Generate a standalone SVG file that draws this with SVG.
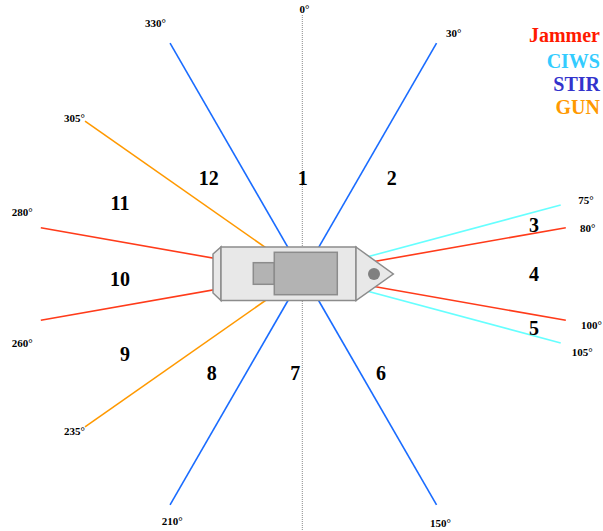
<svg xmlns="http://www.w3.org/2000/svg" width="603" height="531" viewBox="0 0 603 531">
  <style>
    .axis { stroke: #8a8a8a; stroke-width: 1; stroke-dasharray: 1 1; fill: none; }
    .ray { stroke-width: 1.6; fill: none; }
    .stir { stroke: #1a6cff; }
    .jam { stroke: #ff3b1a; }
    .ciws { stroke: #66ffff; }
    .gun { stroke: #ff9900; }
    .hull { fill: #e8e8e8; stroke: #8c8c8c; stroke-width: 1.5; }
    .deck { fill: #b3b3b3; stroke: #8c8c8c; stroke-width: 1.5; }
    text { font-family: 'Liberation Serif', 'DejaVu Serif', serif; font-weight: bold; }
    .sector { font-size: 20px; fill: #000; text-anchor: middle; }
    .deg { font-size: 11px; fill: #000; }
    .legend { font-size: 20px; text-anchor: end; }
  </style>

  <rect width="603" height="531" fill="#ffffff"/>

  <!-- centre-line (bearing 0°) -->
  <line class="axis" x1="302.3" y1="15" x2="302.3" y2="531"/>

  <!-- sector boundaries, radial from ship centre (303.3, 274) -->
  <g id="connectors">
    <line class="ray stir" x1="303.3" y1="274" x2="170.05" y2="43.2"/>
    <line class="ray stir" x1="303.3" y1="274" x2="436.55" y2="43.2"/>
    <line class="ray stir" x1="303.3" y1="274" x2="436.55" y2="504.8"/>
    <line class="ray stir" x1="303.3" y1="274" x2="170.05" y2="504.8"/>
    <line class="ray gun" x1="303.3" y1="274" x2="85" y2="121.1"/>
    <line class="ray gun" x1="303.3" y1="274" x2="85" y2="426.9"/>
    <line class="ray ciws" x1="303.3" y1="274" x2="560.7" y2="205"/>
    <line class="ray ciws" x1="303.3" y1="274" x2="560.7" y2="343"/>
    <line class="ray jam" x1="303.3" y1="274" x2="565.8" y2="227.7"/>
    <line class="ray jam" x1="303.3" y1="274" x2="565.8" y2="320.3"/>
    <line class="ray jam" x1="303.3" y1="274" x2="40.8" y2="227.7"/>
    <line class="ray jam" x1="303.3" y1="274" x2="40.8" y2="320.3"/>
  </g>

  <!-- ship -->
  <g id="ship">
    <polygon class="hull" points="213,254 221,247 221,300.5 213,293"/>
    <rect class="hull" x="221" y="247" width="135" height="53.5"/>
    <polygon class="hull" points="356,247 393.3,274 356,300.5"/>
    <rect class="deck" x="253.3" y="262.7" width="21" height="21.6"/>
    <rect class="deck" x="274.3" y="252.3" width="63" height="42.4"/>
    <circle cx="374" cy="274" r="6" fill="#808080"/>
  </g>

  <!-- sector numbers -->
  <g id="sectors">
    <text class="sector" x="302.8" y="184.5">1</text>
    <text class="sector" x="391.7" y="184.5">2</text>
    <text class="sector" x="534" y="231.7">3</text>
    <text class="sector" x="534" y="281">4</text>
    <text class="sector" x="534" y="335">5</text>
    <text class="sector" x="381" y="379.5">6</text>
    <text class="sector" x="295.3" y="379.5">7</text>
    <text class="sector" x="211.7" y="379.5">8</text>
    <text class="sector" x="125" y="361">9</text>
    <text class="sector" x="120" y="286">10</text>
    <text class="sector" x="120" y="210">11</text>
    <text class="sector" x="208.8" y="184.5">12</text>
  </g>

  <!-- bearing labels -->
  <g id="bearings">
    <text class="deg" x="299.5" y="13">0°</text>
    <text class="deg" x="446" y="37">30°</text>
    <text class="deg" x="578.3" y="204">75°</text>
    <text class="deg" x="580" y="231.7">80°</text>
    <text class="deg" x="581" y="329.3">100°</text>
    <text class="deg" x="571.7" y="356">105°</text>
    <text class="deg" x="430" y="526.7">150°</text>
    <text class="deg" x="161.7" y="525">210°</text>
    <text class="deg" x="64" y="435">235°</text>
    <text class="deg" x="11.7" y="347">260°</text>
    <text class="deg" x="11.7" y="216">280°</text>
    <text class="deg" x="64" y="121.5">305°</text>
    <text class="deg" x="145" y="27">330°</text>
  </g>

  <!-- legend -->
  <g id="legend">
    <text class="legend" x="600" y="41.7" fill="#ff1a00">Jammer</text>
    <text class="legend" x="600" y="68.3" fill="#33ccff">CIWS</text>
    <text class="legend" x="600" y="90.7" fill="#3333cc">STIR</text>
    <text class="legend" x="600" y="114" fill="#ff9900">GUN</text>
  </g>
</svg>
